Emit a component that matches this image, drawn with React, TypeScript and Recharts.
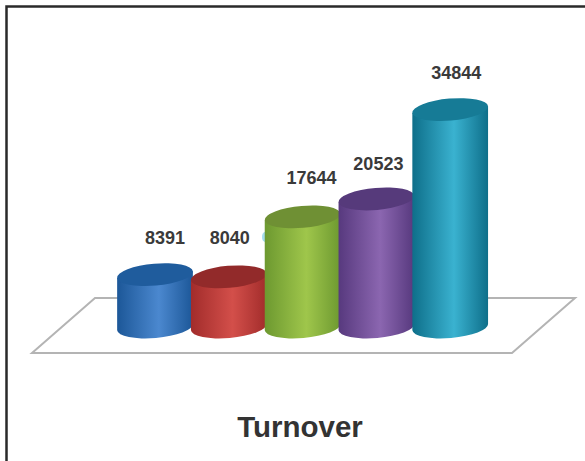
import { Bar, BarChart, LabelList, XAxis, YAxis } from "recharts";

const categories = ["A", "B", "C", "D", "E"];
const turnover = [8391, 8040, 17644, 20523, 34844];

const data = categories.map((name, i) => ({ name, turnover: turnover[i] }));

const PALETTE = [
  { edge: "#1c5798", mid: "#4b88cf", top: "#1f5c9d" },
  { edge: "#a22c2b", mid: "#d34f4a", top: "#922a2a" },
  { edge: "#6d9930", mid: "#9fc64b", top: "#6f9034" },
  { edge: "#57397e", mid: "#8b66b0", top: "#563a7b" },
  { edge: "#0e6f8a", mid: "#3ab2d0", top: "#167b96" },
];
const LABEL_DX = [10, 1, 9, 2, 6];
const LABEL_DY = [37, 39, 39, 35, 37];

const TILT = 5;
const RY = 11;
const BODY_WIDTH = 76;

function Cylinder(props: any) {
  const { x, y, width, height, index } = props;
  const rx = BODY_WIDTH / 2;
  const cx = x + width / 2;
  const rad = (TILT * Math.PI) / 180;
  const ex = rx * Math.cos(rad);
  const ey = rx * Math.sin(rad);
  const base = y + height;
  const side = `M${cx - ex} ${y + ey} L${cx - ex} ${base + ey} A${rx} ${RY} ${-TILT} 0 0 ${cx + ex} ${base - ey} L${cx + ex} ${y - ey} Z`;
  return (
    <g>
      <path d={side} fill={`url(#cyl-${index})`} />
      <ellipse
        cx={cx}
        cy={y}
        rx={rx}
        ry={RY}
        fill={PALETTE[index].top}
        transform={`rotate(${-TILT} ${cx} ${y})`}
      />
    </g>
  );
}

function ValueLabel(props: any) {
  const { x, y, width, value, index } = props;
  return (
    <text
      x={x + width / 2 + LABEL_DX[index]}
      y={y - LABEL_DY[index]}
      textAnchor="middle"
      dominantBaseline="central"
      fontFamily="Liberation Sans"
      fontWeight="bold"
      fontSize={18}
      fill="#3a3a3a"
    >
      {value}
    </text>
  );
}

export default function App() {
  return (
    <div style={{ position: "absolute", left: 0, top: 0, width: 585, height: 461, overflow: "hidden", background: "#fff" }}>
      <BarChart
        width={585}
        height={461}
        data={data}
        margin={{ top: 20, right: 98, bottom: 134, left: 118 }}
        barCategoryGap={0}
      >
        <defs>
          {PALETTE.map((c, i) => (
            <linearGradient key={i} id={`cyl-${i}`} x1="0" y1="0" x2="1" y2="0">
              <stop offset="0%" stopColor={c.edge} />
              <stop offset="55%" stopColor={c.mid} />
              <stop offset="100%" stopColor={c.edge} />
            </linearGradient>
          ))}
        </defs>
        {/* frame: only top and left edges show in the source */}
        <path d="M6.5 461 L6.5 6.5 L585 6.5" fill="none" stroke="#2a2a2a" strokeWidth={2.5} />
        <polygon
          points="32,353 95,298 575,298 512,353"
          fill="#fff"
          stroke="#b4b4b4"
          strokeWidth={2}
        />
        <ellipse cx={265} cy={237} rx={3} ry={5} fill="#a5dcee" />
        <XAxis dataKey="name" hide />
        <YAxis hide domain={[0, 49200]} />
        <Bar dataKey="turnover" shape={Cylinder} isAnimationActive={false}>
          <LabelList dataKey="turnover" content={ValueLabel} />
        </Bar>
        <text
          x={300}
          y={426}
          textAnchor="middle"
          dominantBaseline="central"
          fontFamily="Liberation Sans"
          fontWeight="bold"
          fontSize={29.5}
          fill="#333"
        >
          Turnover
        </text>
      </BarChart>
    </div>
  );
}
